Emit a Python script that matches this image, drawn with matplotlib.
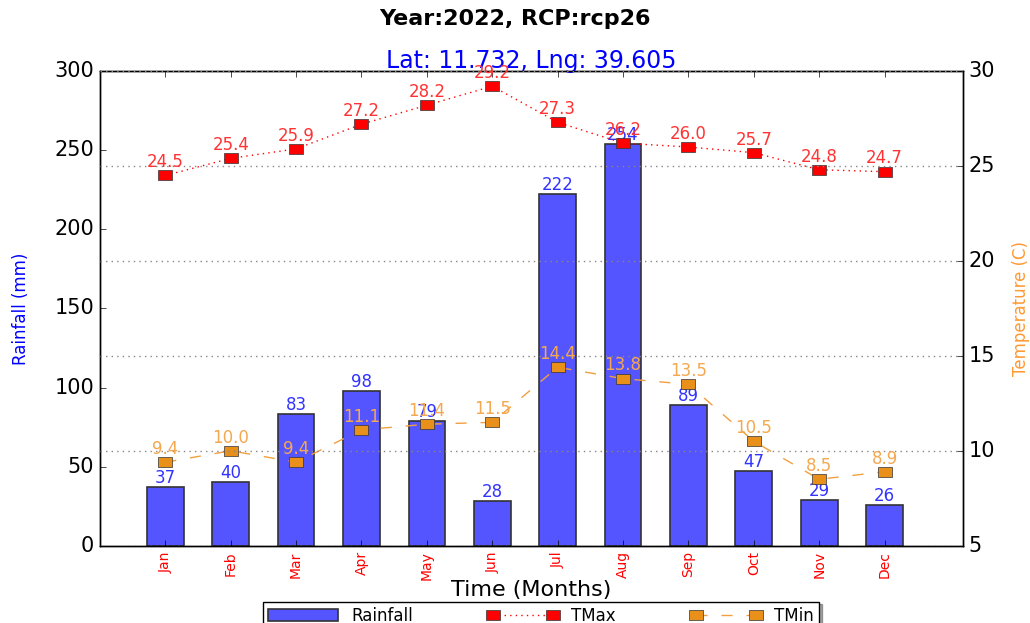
import matplotlib
matplotlib.use('Agg')
import matplotlib.pyplot as plt
import numpy as np

months = ['Jan', 'Feb', 'Mar', 'Apr', 'May', 'Jun', 'Jul', 'Aug', 'Sep', 'Oct', 'Nov', 'Dec']
rainfall = [37, 40, 83, 98, 79, 28, 222, 254, 89, 47, 29, 26]
tmax = [24.5, 25.4, 25.9, 27.2, 28.2, 29.2, 27.3, 26.2, 26.0, 25.7, 24.8, 24.7]
tmin = [9.4, 10.0, 9.4, 11.1, 11.4, 11.5, 14.4, 13.8, 13.5, 10.5, 8.5, 8.9]

plt.style.use('classic')
plt.rcParams['font.family'] = ['DejaVu Sans']

# a wide, flat square marker like the reference
rect = [(-1.4, -1), (1.4, -1), (1.4, 1), (-1.4, 1), (-1.4, -1)]

fig = plt.figure(figsize=(10.3, 6.23), dpi=100, facecolor='white')
ax = fig.add_axes([0.097, 0.124, 0.838, 0.762])
ax2 = ax.twinx()

x = np.arange(1, len(months) + 1)

# rainfall bars
bars = ax.bar(x, rainfall, width=0.56, align='center', color='#5555ff',
              edgecolor='#333333', linewidth=1.2, label='Rainfall')
for xi, v in zip(x, rainfall):
    ax.annotate(str(v), (xi, v), xytext=(0, 0), textcoords='offset points',
                ha='center', va='bottom', color='#3333ff', fontsize=12)

ax.set_xlim(0, 13.2)
ax.set_ylim(0, 300)
ax.set_yticks(range(0, 301, 50))
ax.set_xticks(x)
ax.set_xticklabels(months, rotation=90, color='red', fontsize=10)
ax.tick_params(axis='y', labelsize=15)
ax.set_ylabel('Rainfall (mm)', color='blue', fontsize=12, labelpad=18)
ax.set_xlabel('Time (Months)', fontsize=16, labelpad=0)
ax.set_title('Lat: 11.732, Lng: 39.605', color='blue', fontsize=17, pad=2)
fig.suptitle('Year:2022, RCP:rcp26', fontsize=16, fontweight='bold', y=0.985)

# temperature lines
l1, = ax2.plot(x, tmax, color='red', linestyle=':', marker=rect, markersize=10,
               markerfacecolor='red', markeredgecolor='#333333', label='TMax')
l2, = ax2.plot(x, tmin, color='#f0a040', linestyle='--', dashes=(8, 10), marker=rect,
               markersize=10, markerfacecolor='#e8901a', markeredgecolor='#333333',
               label='TMin')
for xi, v in zip(x, tmax):
    ax2.annotate('%.1f' % v, (xi, v), xytext=(0, 3), textcoords='offset points',
                 ha='center', va='bottom', color='#ff3333', fontsize=12)
for xi, v in zip(x, tmin):
    ax2.annotate('%.1f' % v, (xi, v), xytext=(0, 3), textcoords='offset points',
                 ha='center', va='bottom', color='#f4a850', fontsize=12)

ax2.set_ylim(5, 30)
ax2.set_yticks(range(5, 31, 5))
ax2.tick_params(axis='y', labelsize=15)
ax2.set_ylabel('Temperature (C)', color='#ff9933', fontsize=12, labelpad=12)
ax2.grid(True, axis='y', linestyle=':', color='#888888', linewidth=1)
ax2.set_xlim(0, 13.2)

ax.legend([bars, l1, l2], ['Rainfall', 'TMax', 'TMin'], loc='upper center',
          bbox_to_anchor=(0.511, -0.1), ncol=3, fontsize=12, shadow=True,
          numpoints=2, handlelength=4.2, columnspacing=4.5, borderpad=0.3)

fig.savefig('out.png', dpi=100, facecolor='white')
